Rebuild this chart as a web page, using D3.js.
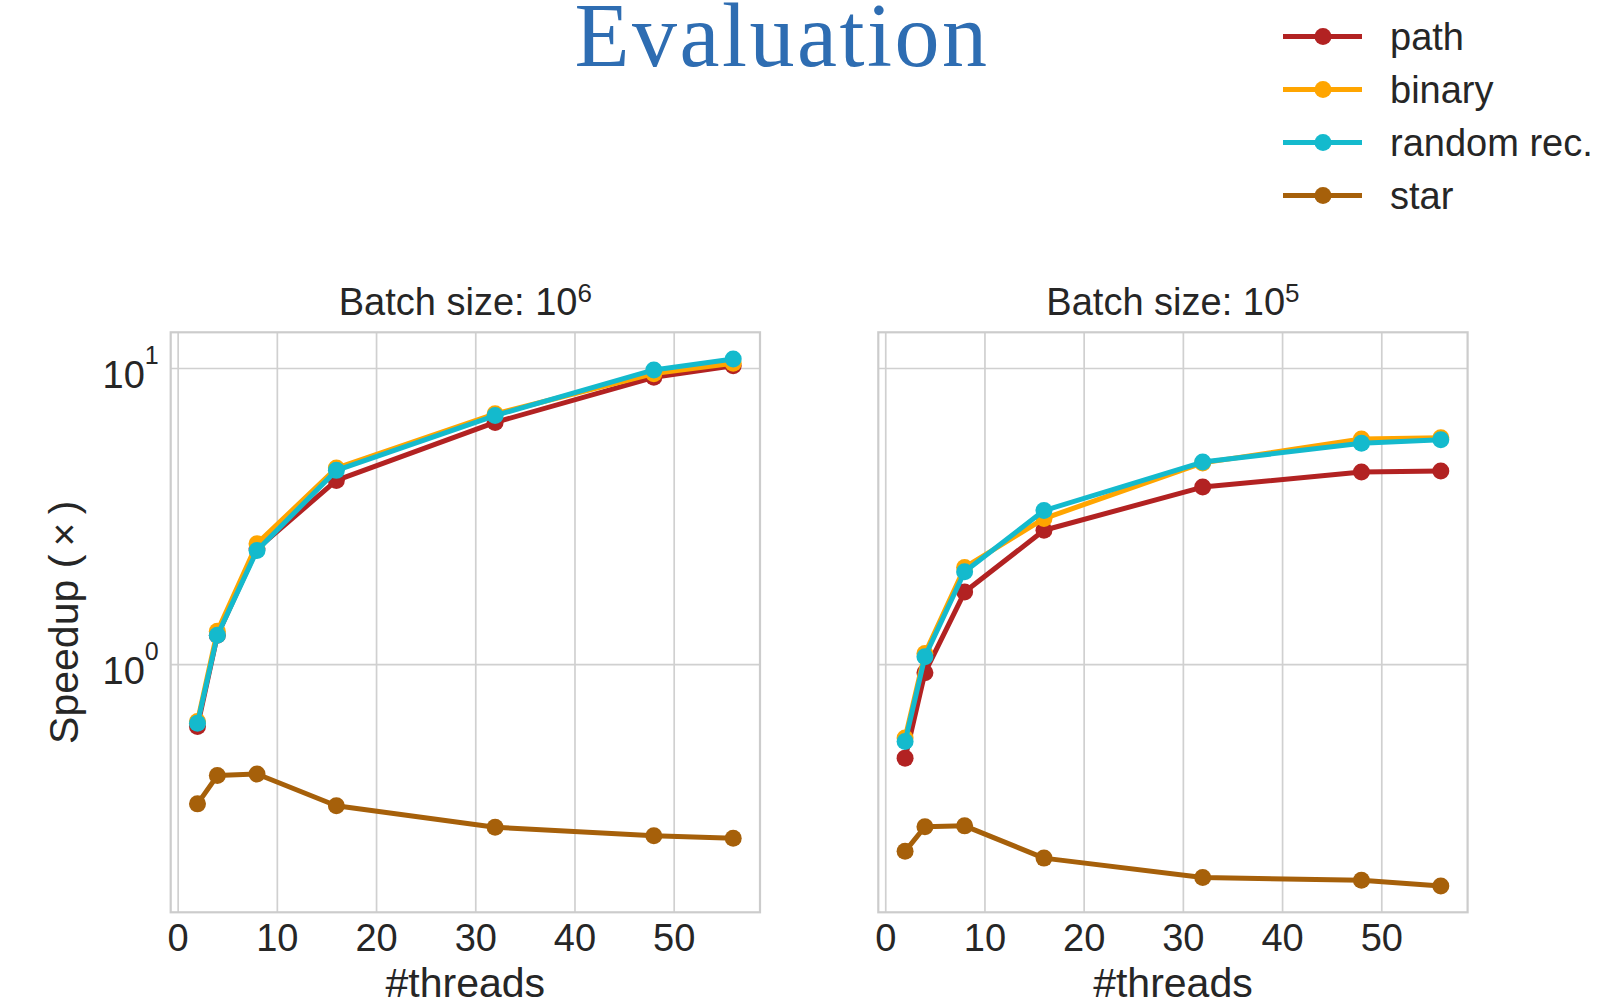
<!DOCTYPE html>
<html>
<head>
<meta charset="utf-8">
<script src="https://cdn.jsdelivr.net/npm/d3@7"></script>
<style>
    body { margin: 0; background: #fff; }
    text { font-family: "Liberation Sans", Arial, sans-serif; fill: #262626; }
</style>
</head>
<body>
<div id="chart"></div>
<script>
// x values: number of threads
const threads = [2, 4, 8, 16, 32, 48, 56];
const seriesNames = ["path", "binary", "random rec.", "star"];

// speedup, batch size 10^6
const path1e6 = [0.615, 1.25, 2.45, 4.17, 6.55, 9.30, 10.18];
const binary1e6 = [0.639, 1.29, 2.55, 4.59, 7.00, 9.57, 10.37];
const random1e6 = [0.631, 1.25, 2.42, 4.51, 6.91, 9.85, 10.72];
const star1e6 = [0.337, 0.420, 0.425, 0.332, 0.281, 0.263, 0.258];

// speedup, batch size 10^5
const path1e5 = [0.481, 0.935, 1.75, 2.83, 3.96, 4.45, 4.49];
const binary1e5 = [0.562, 1.086, 2.12, 3.10, 4.78, 5.76, 5.81];
const random1e5 = [0.547, 1.059, 2.05, 3.30, 4.81, 5.57, 5.72];
const star1e5 = [0.233, 0.282, 0.284, 0.221, 0.190, 0.186, 0.178];

// ticks
const xTicks = [0, 10, 20, 30, 40, 50];
const yTicks = [1, 10];
const yTickExp = ["0", "1"];

const seriesColors = ["#b22222", "#ffa500", "#14bacd", "#a6600a"];


class SpeedupPanel {
    constructor(svg, opts) {
        this.svg = svg;
        this.opts = opts;

        this.initVis()
    }

    initVis() {
        let vis = this;

        vis.margin = {top: 332.3, left: vis.opts.left};
        vis.width = 589.3;
        vis.height = 580;

        vis.g = vis.svg.append("g")
            .attr("transform", `translate(${vis.margin.left},${vis.margin.top})`);

        vis.xScale = d3.scaleLinear().domain([-0.7, 58.7]).range([0, vis.width]);
        vis.yScale = d3.scaleLog().domain([0.145, 13.2]).range([vis.height, 0]);

        // x grid + tick labels
        vis.xAxis = vis.g.append("g")
            .attr("class", "x axis")
            .attr("transform", `translate(0,${vis.height})`)
            .call(d3.axisBottom(vis.xScale)
                .tickValues(xTicks)
                .tickSize(-vis.height)
                .tickPadding(12)
                .tickFormat(d3.format("d")));

        // y grid, labels added by hand for the superscript
        vis.yAxis = vis.g.append("g")
            .attr("class", "y axis")
            .call(d3.axisLeft(vis.yScale)
                .tickValues(yTicks)
                .tickSize(-vis.width)
                .tickFormat(""));

        vis.g.selectAll(".axis .domain").remove();
        vis.g.selectAll(".axis line")
            .attr("stroke", "#d0d0d0")
            .attr("stroke-width", 1.7);
        vis.xAxis.selectAll("text")
            .style("font-size", "38px")
            .attr("fill", "#262626");

        if (vis.opts.showY) {
            vis.yAxis.selectAll(".tick").each(function(d, i) {
                let t = d3.select(this).append("text")
                    .attr("x", -12)
                    .attr("y", 19.5)
                    .attr("text-anchor", "end")
                    .style("font-size", "38px");
                t.append("tspan").text("10");
                t.append("tspan")
                    .attr("dy", -24)
                    .style("font-size", "25px")
                    .text(yTickExp[i]);
            });

            vis.g.append("text")
                .attr("transform", `translate(${78 - vis.margin.left},${vis.height / 2}) rotate(-90)`)
                .attr("text-anchor", "middle")
                .style("font-size", "41px")
                .text("Speedup (\u2009\u00d7\u2009)");
        }

        // frame
        vis.g.append("rect")
            .attr("width", vis.width)
            .attr("height", vis.height)
            .attr("fill", "none")
            .attr("stroke", "#cccccc")
            .attr("stroke-width", 2.2);

        // panel title
        let title = vis.g.append("text")
            .attr("x", vis.width / 2)
            .attr("y", -17)
            .attr("text-anchor", "middle")
            .style("font-size", "38px");
        title.append("tspan").text("Batch size: 10");
        title.append("tspan")
            .attr("dy", -13)
            .style("font-size", "26px")
            .text(vis.opts.exp);

        vis.g.append("text")
            .attr("x", vis.width / 2)
            .attr("y", 665)
            .attr("text-anchor", "middle")
            .style("font-size", "41px")
            .text("#threads");

        vis.line = d3.line()
            .x(d => vis.xScale(d.t))
            .y(d => vis.yScale(d.v));

        vis.wrangleData()
    }

    wrangleData() {
        let vis = this;
        vis.displayData = vis.opts.series.map((vals, i) => ({
            name: seriesNames[i],
            color: seriesColors[i],
            points: vals.map((v, j) => ({t: threads[j], v: v}))
        }));
        vis.updateVis()
    }

    updateVis() {
        let vis = this;

        let s = vis.g.selectAll(".series")
            .data(vis.displayData)
            .enter().append("g")
            .attr("class", "series");

        s.append("path")
            .attr("d", d => vis.line(d.points))
            .attr("fill", "none")
            .attr("stroke", d => d.color)
            .attr("stroke-width", 5)
            .attr("stroke-linejoin", "round");

        s.selectAll("circle")
            .data(d => d.points.map(p => ({...p, color: d.color})))
            .enter().append("circle")
            .attr("cx", d => vis.xScale(d.t))
            .attr("cy", d => vis.yScale(d.v))
            .attr("r", 8.5)
            .attr("fill", d => d.color);
    }
}


let svg = d3.select("#chart").append("svg")
    .attr("width", 1623)
    .attr("height", 1003);

svg.append("text")
    .attr("x", 782)
    .attr("y", 66)
    .attr("text-anchor", "middle")
    .style("font-family", "'Liberation Serif', 'Times New Roman', serif")
    .style("font-size", "90px")
    .style("letter-spacing", "2.5px")
    .style("fill", "#2e6db2")
    .text("Evaluation");

new SpeedupPanel(svg, {left: 170.7, showY: true, exp: "6",
    series: [path1e6, binary1e6, random1e6, star1e6]});
new SpeedupPanel(svg, {left: 878.3, showY: false, exp: "5",
    series: [path1e5, binary1e5, random1e5, star1e5]});

// legend
let legendY = d3.scalePoint().domain(seriesNames).range([36.5, 195.5]);
let legend = svg.append("g").attr("class", "legend");
let item = legend.selectAll("g")
    .data(seriesNames)
    .enter().append("g")
    .attr("transform", d => `translate(0,${legendY(d)})`);

item.append("line")
    .attr("x1", 1283).attr("x2", 1362)
    .attr("stroke", (d, i) => seriesColors[i])
    .attr("stroke-width", 5);
item.append("circle")
    .attr("cx", 1323)
    .attr("r", 8.5)
    .attr("fill", (d, i) => seriesColors[i]);
item.append("text")
    .attr("x", 1390)
    .attr("y", 13)
    .style("font-size", "38px")
    .text(d => d);
</script>
</body>
</html>
